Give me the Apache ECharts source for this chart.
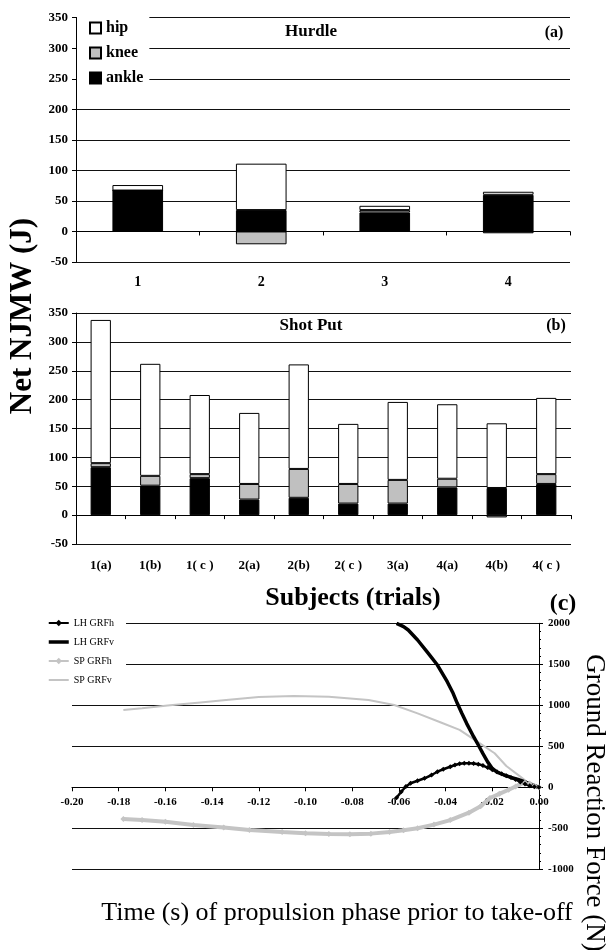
<!DOCTYPE html>
<html><head><meta charset="utf-8">
<script src="https://cdn.jsdelivr.net/npm/echarts@6/dist/echarts.min.js"></script>
<style>html,body{margin:0;padding:0;background:#fff}#c{width:606px;height:950px}</style>
</head><body><div id="c"></div>
<script>
// ---------- data ----------
const jointNames = ['hip', 'knee', 'ankle'];
const hurdleCats = ['1', '2', '3', '4'];
const hurdleAnkle = [67, 35, 31, 60];
const hurdleKnee = [0, -21, 4, -3];
const hurdleHip = [9, 76, 7, 5];

const shotCats = ['1(a)', '1(b)', '1( c )', '2(a)', '2(b)', '2( c )', '3(a)', '4(a)', '4(b)', '4( c )'];
const shotAnkle = [83, 51, 64, 27, 30, 20, 20, 48, 47, 54];
const shotKnee = [7, 17, 7, 27, 50, 34, 41, 15, -4, 17];
const shotHip = [248, 194, 137, 123, 181, 104, 135, 129, 112, 132];

const barTicks = [-50, 0, 50, 100, 150, 200, 250, 300, 350];
const timeTicks = [-0.20, -0.18, -0.16, -0.14, -0.12, -0.10, -0.08, -0.06, -0.04, -0.02, 0.00];
const forceTicks = [-1000, -500, 0, 500, 1000, 1500, 2000];

const lineNames = ['LH GRFh', 'LH GRFv', 'SP GRFh', 'SP GRFv'];
const lhHx = [-0.061, -0.059, -0.057, -0.055, -0.052, -0.049, -0.046, -0.0435, -0.041, -0.038, -0.036, -0.034, -0.032, -0.030, -0.028, -0.026, -0.024, -0.022, -0.020, -0.018, -0.016, -0.014, -0.012, -0.010, -0.008, -0.006, -0.004, -0.002, 0];
const lhHy = [-127, -54, 10, 49, 80, 110, 150, 190, 220, 251, 272, 288, 293, 293, 290, 282, 265, 240, 215, 190, 165, 140, 120, 95, 65, 40, 20, 8, 0];
const lhVx = [-0.061, -0.058, -0.056, -0.052, -0.048, -0.0435, -0.0393, -0.037, -0.035, -0.033, -0.031, -0.028, -0.026, -0.024, -0.022, -0.020, -0.018, -0.015, -0.012, -0.009, -0.006, -0.003, 0];
const lhVy = [2000, 1960, 1918, 1796, 1654, 1491, 1288, 1160, 1024, 900, 780, 617, 516, 410, 310, 230, 185, 150, 120, 95, 65, 30, 0];
const spHx = [-0.178, -0.17, -0.16, -0.148, -0.135, -0.124, -0.11, -0.10, -0.09, -0.081, -0.072, -0.064, -0.058, -0.052, -0.045, -0.038, -0.03, -0.025, -0.021, -0.017, -0.013, -0.010, -0.008, -0.006, -0.004, -0.002, 0];
const spHy = [-387, -400, -420, -460, -490, -521, -545, -561, -568, -573, -565, -545, -525, -500, -455, -400, -310, -230, -130, -80, -30, 10, 40, 55, 45, 20, 0];
const spVx = [-0.178, -0.17, -0.158, -0.145, -0.134, -0.12, -0.105, -0.09, -0.073, -0.062, -0.052, -0.042, -0.034, -0.025, -0.019, -0.014, -0.008, -0.004, 0];
const spVy = [943, 965, 1000, 1035, 1065, 1100, 1112, 1105, 1065, 1004, 902, 790, 700, 530, 415, 260, 130, 40, 0];

// ---------- chart ----------
const FONT = '"Liberation Serif","Times New Roman",serif';
const chart = echarts.init(document.getElementById('c'), null, {renderer: 'canvas'});
const zip = (xs, ys) => xs.map((x, i) => [x, ys[i]]);
const jointColors = {hip: '#ffffff', knee: '#c0c0c0', ankle: '#000000'};

function bars(idx, ankle, knee, hip) {
  const mk = (name, data) => ({
    name, type: 'bar', stack: 'st' + idx, xAxisIndex: idx, yAxisIndex: idx, data,
    barWidth: '41%', itemStyle: {color: jointColors[name], borderColor: '#000', borderWidth: 1}
  });
  return [mk('ankle', ankle), mk('knee', knee), mk('hip', hip)];
}

function catAxis(idx, cats, fs, margin) {
  return {
    type: 'category', gridIndex: idx, data: cats,
    axisLine: {onZero: true, lineStyle: {color: '#000', width: 1}},
    axisTick: {show: true, length: 4, lineStyle: {color: '#000'}},
    axisLabel: {margin, color: '#000', fontFamily: FONT, fontWeight: 'bold', fontSize: fs}
  };
}
function valAxis(idx) {
  return {
    type: 'value', gridIndex: idx, min: barTicks[0], max: barTicks[barTicks.length - 1], interval: 50,
    axisLine: {show: true, lineStyle: {color: '#000'}},
    axisTick: {show: true, length: 4, lineStyle: {color: '#000'}},
    splitLine: {show: true, lineStyle: {color: '#111', width: 1}},
    axisLabel: {margin: 8, color: '#000', fontFamily: FONT, fontWeight: 'bold', fontSize: 13}
  };
}

const txt = (x, y, text, font, rot) => ({
  type: 'text', x, y, rotation: rot || 0, z: 100,
  style: {text, font, fill: '#000', align: 'center', verticalAlign: 'middle'}
});

const option = {
  animation: false,
  backgroundColor: '#fff',
  grid: [
    {left: 76, right: 36, top: 17.7, bottom: 688},
    {left: 76, right: 35, top: 313, bottom: 406},
    {left: 72, right: 67, top: 623.3, bottom: 80.7}
  ],
  legend: [
    {
      data: jointNames, orient: 'vertical', left: 77, top: 16, itemWidth: 11, itemHeight: 11,
      itemGap: 9, padding: [4, 6, 4, 12], backgroundColor: '#fff', icon: 'rect',
      textStyle: {fontFamily: FONT, fontWeight: 'bold', fontSize: 16, color: '#000'}, z: 10
    },
    {
      data: [
        {name: 'LH GRFh'},
        {name: 'LH GRFv', itemStyle: {opacity: 0}, lineStyle: {width: 3.5, color: '#000'}},
        {name: 'SP GRFh'},
        {name: 'SP GRFv', itemStyle: {opacity: 0}, lineStyle: {width: 2, color: '#c4c4c4'}}
      ],
      orient: 'vertical', left: 44, top: 615, itemWidth: 20, itemHeight: 8,
      itemGap: 9, padding: [3, 12, 3, 3], backgroundColor: '#fff',
      textStyle: {fontFamily: FONT, fontSize: 10, color: '#000'}, z: 10
    }
  ],
  xAxis: [
    catAxis(0, hurdleCats, 14, 13.5),
    catAxis(1, shotCats, 13, 15.5),
    {
      type: 'value', gridIndex: 2, min: timeTicks[0], max: timeTicks[timeTicks.length - 1], interval: 0.02,
      axisLine: {onZero: true, lineStyle: {color: '#000'}},
      axisTick: {show: true, length: 4, lineStyle: {color: '#000'}},
      splitLine: {show: false},
      axisLabel: {margin: -73, color: '#000', fontFamily: FONT, fontWeight: 'bold', fontSize: 11,
        formatter: v => (Math.abs(v) < 1e-9 ? 0 : v).toFixed(2)}
    }
  ],
  yAxis: [
    valAxis(0), valAxis(1),
    {
      type: 'value', gridIndex: 2, position: 'right', min: forceTicks[0], max: forceTicks[forceTicks.length - 1], interval: 500,
      axisLine: {show: true, lineStyle: {color: '#000'}},
      axisTick: {show: true, length: 4, lineStyle: {color: '#000'}},
      minorTick: {show: true, splitNumber: 5, length: 2, lineStyle: {color: '#000'}},
      splitLine: {show: true, lineStyle: {color: '#111', width: 1}},
      axisLabel: {margin: 9, color: '#000', fontFamily: FONT, fontWeight: 'bold', fontSize: 11,
        formatter: v => String(v)}
    }
  ],
  series: [
    ...bars(0, hurdleAnkle, hurdleKnee, hurdleHip),
    ...bars(1, shotAnkle, shotKnee, shotHip),
    {name: 'SP GRFv', type: 'line', xAxisIndex: 2, yAxisIndex: 2, data: zip(spVx, spVy),
      showSymbol: false, symbol: 'none', lineStyle: {color: '#c4c4c4', width: 2}, itemStyle: {color: '#c4c4c4'}},
    {name: 'SP GRFh', type: 'line', xAxisIndex: 2, yAxisIndex: 2, data: zip(spHx, spHy),
      symbol: 'diamond', symbolSize: 6, lineStyle: {color: '#c4c4c4', width: 4}, itemStyle: {color: '#c4c4c4'}},
    {name: 'LH GRFv', type: 'line', xAxisIndex: 2, yAxisIndex: 2, data: zip(lhVx, lhVy),
      showSymbol: false, symbol: 'none', lineStyle: {color: '#000', width: 3.5}, itemStyle: {color: '#000'}},
    {name: 'LH GRFh', type: 'line', xAxisIndex: 2, yAxisIndex: 2, data: zip(lhHx, lhHy),
      symbol: 'diamond', symbolSize: 5, lineStyle: {color: '#000', width: 2.5}, itemStyle: {color: '#000'}}
  ],
  graphic: [
    txt(311, 32, 'Hurdle', 'bold 17px ' + FONT),
    txt(554, 33, '(a)', 'bold 16px ' + FONT),
    txt(311, 326, 'Shot Put', 'bold 17px ' + FONT),
    txt(556, 326, '(b)', 'bold 16px ' + FONT),
    txt(353, 598, 'Subjects (trials)', 'bold 26px ' + FONT),
    txt(563, 604, '(c)', 'bold 24px ' + FONT),
    txt(337, 913, 'Time (s) of propulsion phase prior to take-off', '26px ' + FONT),
    txt(594, 803, 'Ground Reaction Force (N)', '27px ' + FONT, -Math.PI / 2),
    txt(23, 316, 'Net NJMW (J)', 'bold 31px ' + FONT, Math.PI / 2)
  ]
};
chart.setOption(option);
</script></body></html>
